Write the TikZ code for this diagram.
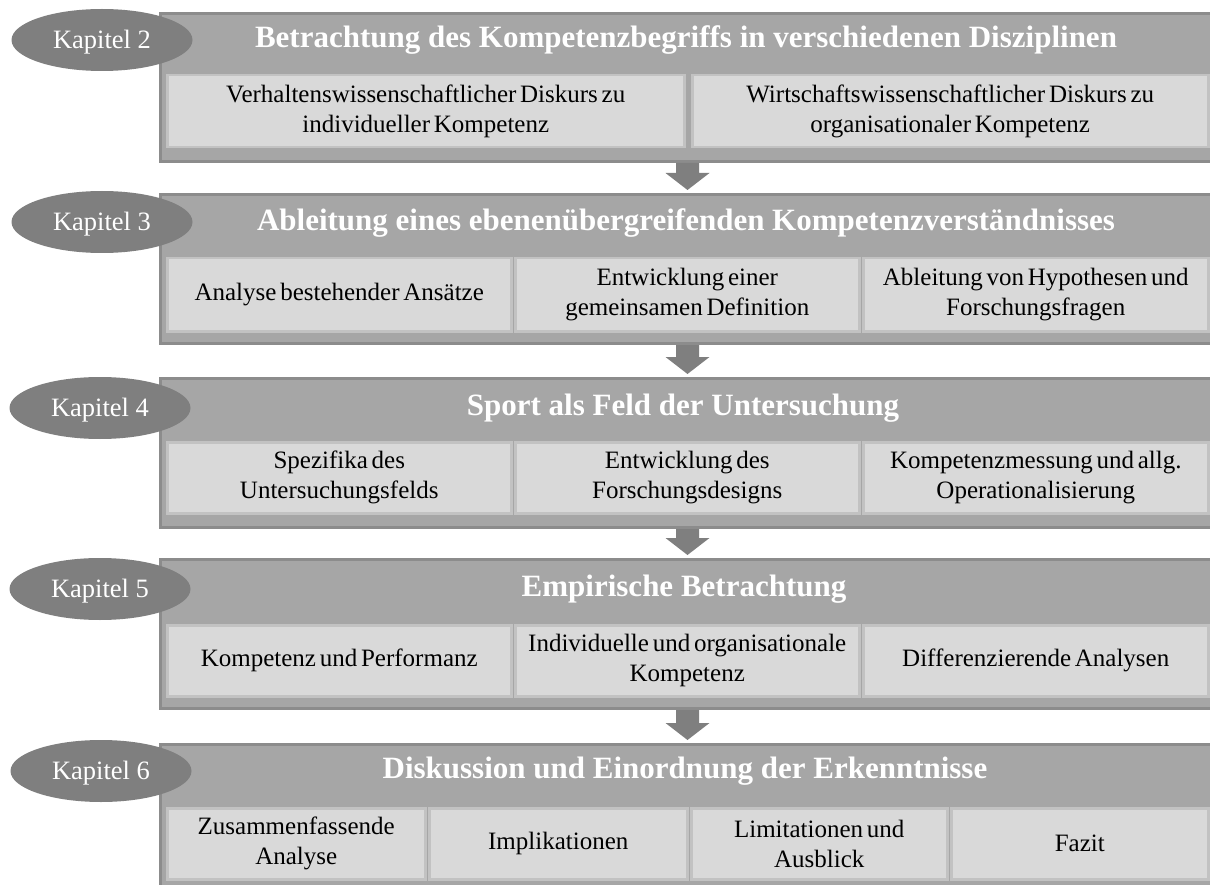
\documentclass[tikz,border=0pt]{standalone}
\usepackage{fontspec}
\setmainfont{Liberation Serif}
\newfontfamily\cellfont[WordSpace=0.6]{Liberation Serif}
\usetikzlibrary{calc,shapes.geometric}

\definecolor{framefill}{HTML}{A6A6A6}
\definecolor{frameline}{HTML}{8C8C8C}
\definecolor{cellfill}{HTML}{D9D9D9}
\definecolor{cellline}{HTML}{C2C2C2}
\definecolor{tagfill}{HTML}{7F7F7F}

\begin{document}
\begin{tikzpicture}[x=1pt,y=-1pt,
  frame/.style={draw=frameline, fill=framefill, line width=3pt, anchor=north west,
    minimum width=1054pt, inner sep=0pt},
  cell/.style={draw=cellline, fill=cellfill, line width=2.5pt, anchor=north west,
    inner sep=0pt, align=center, text=black,
    font=\cellfont\fontsize{25}{30}\selectfont},
  heading/.style={text=white, inner sep=0pt, text height=21pt, text depth=0pt,
    font=\bfseries\fontsize{31}{35}\selectfont},
  tag/.style={ellipse, fill=tagfill, minimum width=181pt, minimum height=62pt,
    inner sep=0pt, text=white, text height=17pt, text depth=0pt,
    font=\fontsize{26.5}{30}\selectfont},
  flow/.style={fill=tagfill}
]
\useasboundingbox (0,0) rectangle (1210,885);
\clip (0,0) rectangle (1210,885);

% chapter frames
\node[frame, minimum height=148pt] (f1) at (159,12)  {};
\node[frame, minimum height=149pt] (f2) at (159,193) {};
\node[frame, minimum height=149pt] (f3) at (159,377) {};
\node[frame, minimum height=149pt] (f4) at (159,558) {};
\node[frame, minimum height=149pt] (f5) at (159,743) {};

% arrows between consecutive chapters
\foreach \a/\b in {f1/f2,f2/f3,f3/f4,f4/f5}{
  \fill[flow] let \p1=(\a.south), \p2=(\b.north) in
    (\x1-11.5pt,\y1) -- (\x1+11.5pt,\y1) -- (\x1+11.5pt,\y2+20pt)
    -- (\x1+22pt,\y2+20pt) -- (\x1,\y2+3pt) -- (\x1-22pt,\y2+20pt)
    -- (\x1-11.5pt,\y2+20pt) -- cycle;
}

% chapter 2
\node[heading] (h1) at (686,37) {Betrachtung des Kompetenzbegriffs in verschiedenen Disziplinen};
\node[cell, minimum width=517pt, minimum height=72pt] (c11) at (166,74)
  {Verhaltenswissenschaftlicher Diskurs zu\\individueller Kompetenz};
\node[cell, minimum width=516pt, minimum height=72pt] (c12) at (691,74)
  {Wirtschaftswissenschaftlicher Diskurs zu\\organisationaler Kompetenz};

% chapter 3
\node[heading] (h2) at (686,220) {Ableitung eines ebenenübergreifenden Kompetenzverständnisses};
\node[cell, minimum width=344pt, minimum height=73pt] (c21) at (166,257)
  {Analyse bestehender Ansätze};
\node[cell, minimum width=344pt, minimum height=73pt] (c22) at (514,257)
  {Entwicklung einer\\gemeinsamen Definition};
\node[cell, minimum width=345pt, minimum height=73pt] (c23) at (862,257)
  {Ableitung von Hypothesen und\\Forschungsfragen};

% chapter 4
\node[heading] (h3) at (683,405) {Sport als Feld der Untersuchung};
\node[cell, minimum width=344pt, minimum height=71pt] (c31) at (166,441)
  {Spezifika des\\Untersuchungsfelds};
\node[cell, minimum width=344pt, minimum height=71pt] (c32) at (514,441)
  {Entwicklung des\\Forschungsdesigns};
\node[cell, minimum width=345pt, minimum height=71pt] (c33) at (862,441)
  {Kompetenzmessung und allg.\\Operationalisierung};

% chapter 5
\node[heading] (h4) at (684,586) {Empirische Betrachtung};
\node[cell, minimum width=344pt, minimum height=71pt] (c41) at (166,624)
  {Kompetenz und Performanz};
\node[cell, minimum width=344pt, minimum height=71pt] (c42) at (514,624)
  {Individuelle und organisationale\\Kompetenz};
\node[cell, minimum width=345pt, minimum height=71pt] (c43) at (862,624)
  {Differenzierende Analysen};

% chapter 6
\node[heading] (h5) at (685,768) {Diskussion und Einordnung der Erkenntnisse};
\node[cell, minimum width=258pt, minimum height=71pt] (c51) at (166,807)
  {Zusammenfassende\\Analyse};
\node[cell, minimum width=258pt, minimum height=71pt] (c52) at (428,807)
  {Implikationen};
\node[cell, minimum width=256pt, minimum height=71pt] (c53) at (690,807)
  {Limitationen und\\Ausblick};
\node[cell, minimum width=257pt, minimum height=71pt] (c54) at (950,807)
  {Fazit};

% chapter tags
\node[tag] (k2) at (102,40)  {Kapitel 2};
\node[tag] (k3) at (102,222) {Kapitel 3};
\node[tag] (k4) at (100,408) {Kapitel 4};
\node[tag] (k5) at (100,589) {Kapitel 5};
\node[tag] (k6) at (101,771) {Kapitel 6};
\end{tikzpicture}
\end{document}
